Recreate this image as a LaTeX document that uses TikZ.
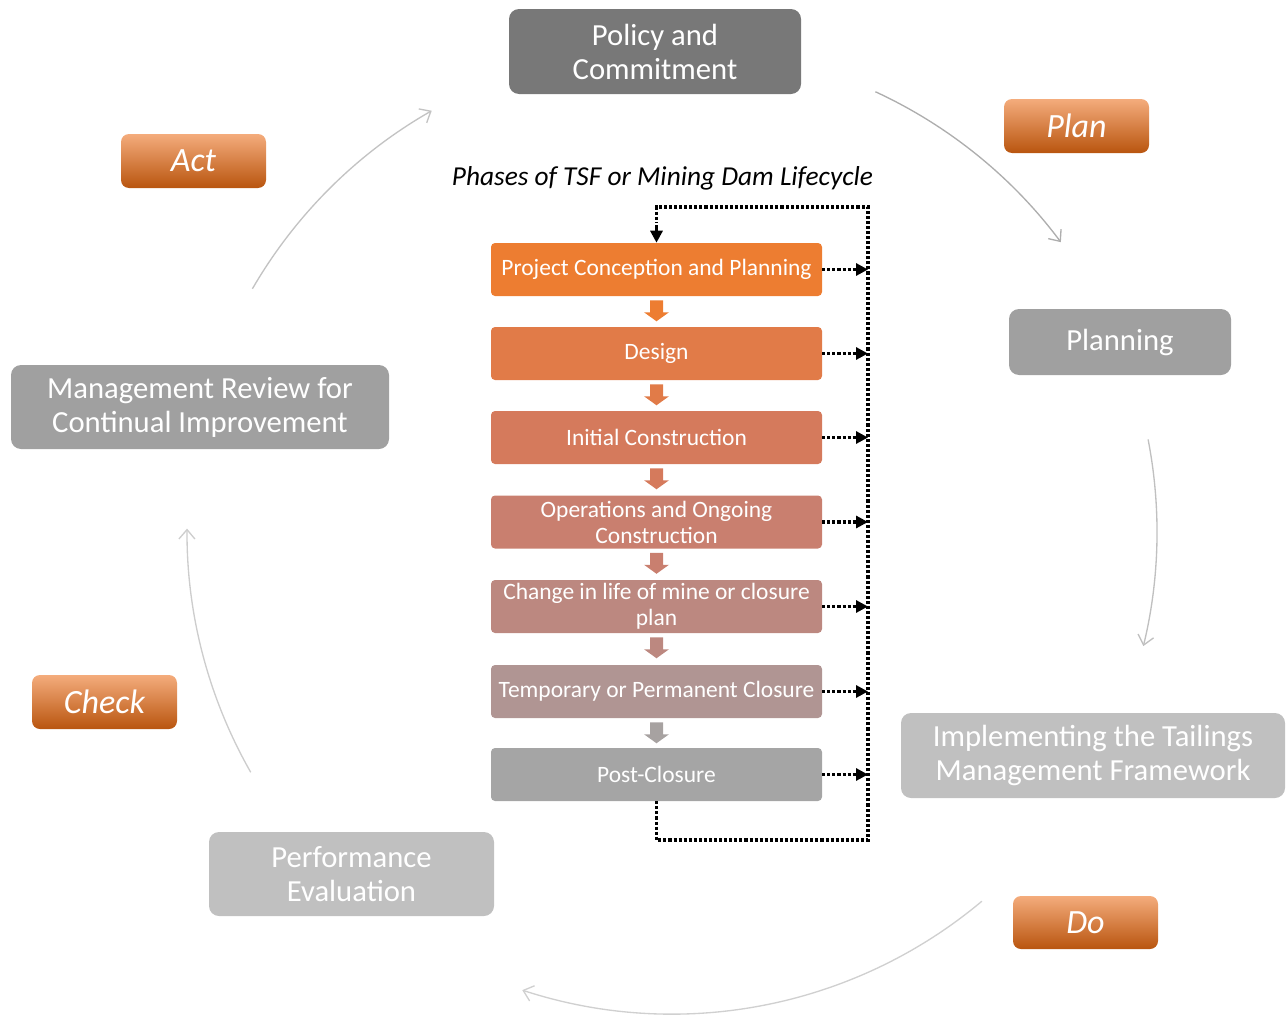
\documentclass[tikz,border=0pt]{standalone}
\usepackage{fontspec}
\setmainfont{Carlito}
\usetikzlibrary{arrows.meta,calc}
\definecolor{pc1}{HTML}{ED7D31}
\definecolor{pc2}{HTML}{E17B48}
\definecolor{pc3}{HTML}{D57A5C}
\definecolor{pc4}{HTML}{C97F6F}
\definecolor{pc5}{HTML}{BC8880}
\definecolor{pc6}{HTML}{B09593}
\definecolor{pc7}{HTML}{A5A5A5}
\definecolor{gdark}{HTML}{787878}
\definecolor{gmid}{HTML}{A0A0A0}
\definecolor{glight}{HTML}{C0C0C0}
\definecolor{otop}{HTML}{F4AC7C}
\definecolor{omid}{HTML}{ED7D31}
\definecolor{obot}{HTML}{B9550F}
\tikzset{
  bigbox/.style={rectangle, rounded corners=7.5pt, text=white, align=center,
    font=\fontsize{23}{25.5}\selectfont, inner sep=0pt},
  labbox/.style={rectangle, rounded corners=6pt, text=white, align=center,
    font=\fontsize{25.5}{28}\selectfont\itshape, inner sep=0pt,
    top color=otop, middle color=omid, bottom color=obot,
    minimum width=145*0.75pt, minimum height=54*0.75pt},
  phase/.style={rectangle, rounded corners=3pt, text=white, align=center,
    font=\fontsize{17.6}{19.5}\selectfont, inner sep=0pt,
    minimum width=331*0.75pt, minimum height=53*0.75pt},
  dotline/.style={line width=2.5pt, dash pattern=on 2.3pt off 1.5pt, black},
  dottip/.style={-{Triangle[length=9pt,width=9pt]}},
  arcline/.style={line width=1pt, -{Straight Barb[length=7pt,width=12pt]}}
}
\newcommand\blkarrow[2]{\fill[#2] ($(#1.south)+(-6.5,4)$) -- ++(13,0) -- ++(0,12) -- ++(6,0) -- ++(-12.5,9) -- ++(-12.5,-9) -- ++(6,0) -- cycle;}
\begin{document}
\begin{tikzpicture}[x=0.75pt,y=-0.75pt]
\useasboundingbox (0,0) rectangle (1286,1017);
% PDCA boxes
\node[bigbox, fill=gdark, minimum width=292*0.75pt, minimum height=85*0.75pt] (policy) at (655,51.5) {Policy and\\Commitment};
\node[bigbox, fill=gmid, minimum width=222*0.75pt, minimum height=66*0.75pt] (planning) at (1120,342) {Planning};
\node[bigbox, fill=gmid, minimum width=378*0.75pt, minimum height=84*0.75pt] (review) at (200,407) {Management Review for\\Continual Improvement};
\node[bigbox, fill=glight, minimum width=384*0.75pt, minimum height=85*0.75pt] (impl) at (1093,755.5) {Implementing the Tailings\\Management Framework};
\node[bigbox, fill=glight, minimum width=285*0.75pt, minimum height=84*0.75pt] (perf) at (351.5,874) {Performance\\Evaluation};
% labels
\node[labbox] (plan) at (1076.5,126) {Plan};
\node[labbox] (act) at (193.5,161) {Act};
\node[labbox] (check) at (104.5,702) {Check};
\node[labbox, minimum height=53*0.75pt] (do) at (1085.5,922.5) {Do};
% cycle arcs
\coordinate (cc) at (672,532);
\coordinate (a1) at ($(cc)+(-65.2:485)$);
\coordinate (a2) at ($(cc)+(-11:485)$);
\coordinate (a3) at ($(cc)+(50:482)$);
\coordinate (a4) at ($(cc)+(150.3:485)$);
\coordinate (a5) at ($(cc)+(210.1:485)$);
\draw[arcline, color=gmid!85] (a1) arc[start angle=-65.2, end angle=-36.7, radius=485];
\draw[arcline, color=glight] (a2) arc[start angle=-11, end angle=13.6, radius=485];
\draw[arcline, color=glight!75] (a3) arc[start angle=50, end angle=108.1, radius=482];
\draw[arcline, color=glight!80] (a4) arc[start angle=150.3, end angle=180.4, radius=485];
\draw[arcline, color=glight!95] (a5) arc[start angle=210.1, end angle=240.3, radius=485];
% title
\node[font=\fontsize{20.5}{23}\selectfont\itshape, inner sep=0pt] (title) at (662.5,178) {Phases of TSF or Mining Dam Lifecycle};
% phases
\node[phase, fill=pc1] (b1) at (656.5,269.5) {Project Conception and Planning};
\node[phase, fill=pc2] (b2) at (656.5,353.5) {Design};
\node[phase, fill=pc3] (b3) at (656.5,437.5) {Initial Construction};
\node[phase, fill=pc4] (b4) at (656.5,522) {Operations and Ongoing\\Construction};
\node[phase, fill=pc5] (b5) at (656.5,606.5) {Change in life of mine or closure\\plan};
\node[phase, fill=pc6] (b6) at (656.5,691.5) {Temporary or Permanent Closure};
\node[phase, fill=pc7] (b7) at (656.5,774.5) {Post-Closure};
\blkarrow{b1}{pc1}
\blkarrow{b2}{pc2}
\blkarrow{b3}{pc3}
\blkarrow{b4}{pc4}
\blkarrow{b5}{pc5}
\blkarrow{b6}{pc7!80!pc6}
% dotted loop
\coordinate (rt) at (868,207);
\coordinate (rb) at (868,840);
\coordinate (lt) at (656.5,207);
\coordinate (lb) at (656.5,840);
\draw[dotline] (b7.south) -- (lb) -- (rb) -- (rt) -- (lt) -- ++(0,16);
\draw[dottip, line width=2.5pt] ($(lt)+(0,18)$) -- (b1.north);
\foreach \b in {b1,b2,b3,b4,b5,b6,b7}{
  \draw[dotline, dottip] (\b.east) -- (\b.east -| rt);
}
\end{tikzpicture}
\end{document}
